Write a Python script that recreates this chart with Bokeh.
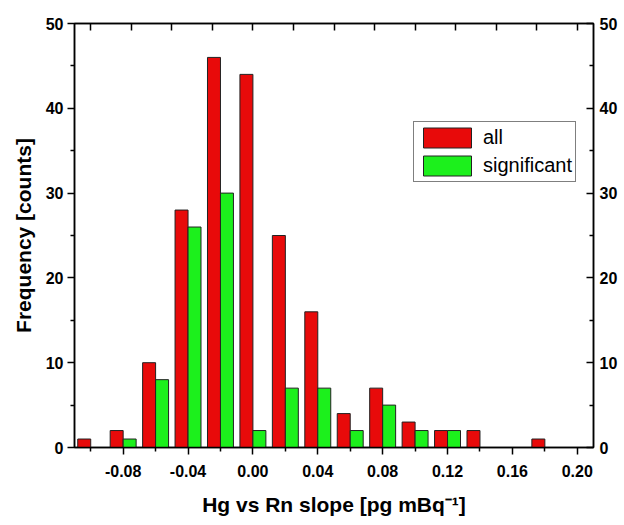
from bokeh.plotting import figure
from bokeh.models import (ColumnDataSource, Range1d, LinearAxis, FixedTicker,
                          PrintfTickFormatter, Legend, LegendItem)
from bokeh.transform import dodge
from bokeh.embed import file_html
from bokeh.resources import INLINE

# ---- data ----
bin_centers = [-0.10, -0.08, -0.06, -0.04, -0.02, 0.00, 0.02, 0.04,
               0.06, 0.08, 0.10, 0.12, 0.14, 0.16, 0.18]
all_counts = [1, 2, 10, 28, 46, 44, 25, 16, 4, 7, 3, 2, 2, 0, 1]
sig_counts = [0, 1, 8, 26, 30, 2, 7, 7, 2, 5, 2, 2, 0, 0, 0]

bottom_ticks = [-0.08, -0.04, 0.00, 0.04, 0.08, 0.12, 0.16, 0.20]
bottom_minor = [-0.10, -0.06, -0.02, 0.02, 0.06, 0.10, 0.14, 0.18]
top_ticks = [-0.10, -0.075, -0.05, -0.025, 0.00, 0.025, 0.05, 0.075,
             0.10, 0.125, 0.15, 0.175, 0.20]
y_ticks = [0, 10, 20, 30, 40, 50]
y_minor = [5, 15, 25, 35, 45]

src = ColumnDataSource(dict(x=bin_centers, all=all_counts, sig=sig_counts))

FONT = "Liberation Sans"
RED = "#E80A0A"
GREEN = "#1CF01C"

p = figure(width=620, height=518, output_backend="svg", toolbar_location=None,
           x_range=Range1d(-0.11, 0.21), y_range=Range1d(0, 50),
           min_border_left=74, min_border_right=24, min_border_top=23,
           min_border_bottom=70)
p.xgrid.visible = False
p.ygrid.visible = False
p.outline_line_color = "black"
p.outline_line_width = 1.5
p.background_fill_color = "white"
p.border_fill_color = "white"

r_all = p.vbar(x=dodge("x", -0.004, range=p.x_range), top="all", width=0.008,
               source=src, fill_color=RED, line_color="#222222", line_width=1)
r_sig = p.vbar(x=dodge("x", 0.004, range=p.x_range), top="sig", width=0.008,
               source=src, fill_color=GREEN, line_color="#222222", line_width=1)


def style_axis(ax):
    ax.axis_line_color = "black"
    ax.axis_line_width = 1.5
    ax.major_tick_line_color = "black"
    ax.major_tick_line_width = 1.5
    ax.minor_tick_line_color = "black"
    ax.minor_tick_line_width = 1.5
    ax.major_label_text_font = FONT
    ax.major_label_text_font_style = "bold"
    ax.major_label_text_font_size = "16px"
    ax.major_label_text_color = "black"
    ax.axis_label_text_font = FONT
    ax.axis_label_text_font_style = "bold"
    ax.axis_label_text_font_size = "21px"
    ax.axis_label_text_color = "black"


# bottom axis
xb = p.xaxis[0]
style_axis(xb)
xb.ticker = FixedTicker(ticks=bottom_ticks, minor_ticks=bottom_minor)
xb.formatter = PrintfTickFormatter(format="%.2f")
xb.major_tick_in = 0
xb.major_tick_out = 7
xb.minor_tick_in = 0
xb.minor_tick_out = 4
xb.major_label_standoff = 10
xb.axis_label = "Hg vs Rn slope [pg mBq\u207b\u00b9]"
xb.axis_label_standoff = 13

# left axis
yl = p.yaxis[0]
style_axis(yl)
yl.ticker = FixedTicker(ticks=y_ticks, minor_ticks=y_minor)
yl.major_tick_in = 0
yl.major_tick_out = 7
yl.minor_tick_in = 0
yl.minor_tick_out = 4
yl.major_label_standoff = 4
yl.axis_label = "Frequency [counts]"
yl.axis_label_standoff = 8

# top axis: ticks only (no labels)
xt = LinearAxis(ticker=FixedTicker(ticks=[], minor_ticks=top_ticks))
style_axis(xt)
xt.major_tick_in = 0
xt.major_tick_out = 0
xt.minor_tick_in = 7
xt.minor_tick_out = 0
p.add_layout(xt, "above")

# right axis
yr = LinearAxis(ticker=FixedTicker(ticks=y_ticks, minor_ticks=y_minor))
style_axis(yr)
yr.major_tick_in = 7
yr.major_tick_out = 0
yr.minor_tick_in = 4
yr.minor_tick_out = 0
yr.major_label_standoff = 6
p.add_layout(yr, "right")

legend = Legend(items=[LegendItem(label="all", renderers=[r_all]),
                       LegendItem(label="significant", renderers=[r_sig])],
                location=(339, 265))
legend.label_text_font = FONT
legend.label_text_font_size = "20px"
legend.label_text_color = "black"
legend.glyph_width = 60
legend.glyph_height = 25
legend.label_height = 25
legend.label_standoff = 6
legend.spacing = 3
legend.padding = 3
legend.margin = 0
legend.border_line_color = "black"
legend.border_line_width = 1
legend.background_fill_alpha = 1
p.add_layout(legend, "center")

open("out.html", "w").write(file_html(p, INLINE))
